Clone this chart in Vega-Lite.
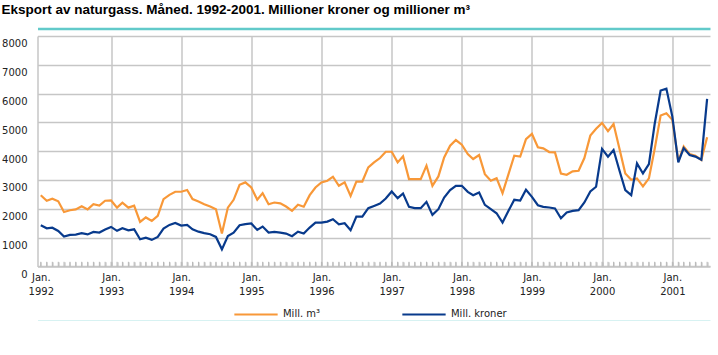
{
"$schema": "https://vega.github.io/schema/vega-lite/v6.json",
"width": 672.5,
"height": 230.4,
"padding": {"left": 1.5, "top": 3, "right": 0, "bottom": 0},
"background": "white",
"title": {"text": "Eksport av naturgass. Måned. 1992-2001. Millioner kroner og millioner m³", "anchor": "start", "frame": "bounds", "font": "Liberation Sans", "fontSize": 13.5, "fontWeight": "bold", "color": "#000000", "offset": 12},
"config": {"view": {"stroke": null},
"axis": {"gridColor": "#c6c6c6", "gridWidth": 1.5, "domainColor": "#c6c6c6", "domainWidth": 1.5, "ticks": false, "tickSize": 0, "labelFont": "DejaVu Sans", "labelFontSize": 10, "labelColor": "#222222", "title": null}},
"data": {"values": [
{"d":"1992-01","s":"Mill. m³","v":2470},{"d":"1992-02","s":"Mill. m³","v":2280},{"d":"1992-03","s":"Mill. m³","v":2350},{"d":"1992-04","s":"Mill. m³","v":2260},{"d":"1992-05","s":"Mill. m³","v":1890},{"d":"1992-06","s":"Mill. m³","v":1950},{"d":"1992-07","s":"Mill. m³","v":1980},{"d":"1992-08","s":"Mill. m³","v":2090},{"d":"1992-09","s":"Mill. m³","v":1980},{"d":"1992-10","s":"Mill. m³","v":2160},{"d":"1992-11","s":"Mill. m³","v":2110},{"d":"1992-12","s":"Mill. m³","v":2280},
{"d":"1993-01","s":"Mill. m³","v":2290},{"d":"1993-02","s":"Mill. m³","v":2040},{"d":"1993-03","s":"Mill. m³","v":2210},{"d":"1993-04","s":"Mill. m³","v":2040},{"d":"1993-05","s":"Mill. m³","v":2110},{"d":"1993-06","s":"Mill. m³","v":1545},{"d":"1993-07","s":"Mill. m³","v":1700},{"d":"1993-08","s":"Mill. m³","v":1580},{"d":"1993-09","s":"Mill. m³","v":1756},{"d":"1993-10","s":"Mill. m³","v":2337},{"d":"1993-11","s":"Mill. m³","v":2484},{"d":"1993-12","s":"Mill. m³","v":2592},
{"d":"1994-01","s":"Mill. m³","v":2592},{"d":"1994-02","s":"Mill. m³","v":2651},{"d":"1994-03","s":"Mill. m³","v":2337},{"d":"1994-04","s":"Mill. m³","v":2253},{"d":"1994-05","s":"Mill. m³","v":2160},{"d":"1994-06","s":"Mill. m³","v":2080},{"d":"1994-07","s":"Mill. m³","v":1987},{"d":"1994-08","s":"Mill. m³","v":1139},{"d":"1994-09","s":"Mill. m³","v":2041},{"d":"1994-10","s":"Mill. m³","v":2312},{"d":"1994-11","s":"Mill. m³","v":2833},{"d":"1994-12","s":"Mill. m³","v":2917},
{"d":"1995-01","s":"Mill. m³","v":2740},{"d":"1995-02","s":"Mill. m³","v":2312},{"d":"1995-03","s":"Mill. m³","v":2543},{"d":"1995-04","s":"Mill. m³","v":2160},{"d":"1995-05","s":"Mill. m³","v":2218},{"d":"1995-06","s":"Mill. m³","v":2189},{"d":"1995-07","s":"Mill. m³","v":2080},{"d":"1995-08","s":"Mill. m³","v":1928},{"d":"1995-09","s":"Mill. m³","v":2140},{"d":"1995-10","s":"Mill. m³","v":2071},{"d":"1995-11","s":"Mill. m³","v":2474},{"d":"1995-12","s":"Mill. m³","v":2740},
{"d":"1996-01","s":"Mill. m³","v":2917},{"d":"1996-02","s":"Mill. m³","v":2976},{"d":"1996-03","s":"Mill. m³","v":3114},{"d":"1996-04","s":"Mill. m³","v":2799},{"d":"1996-05","s":"Mill. m³","v":2917},{"d":"1996-06","s":"Mill. m³","v":2450},{"d":"1996-07","s":"Mill. m³","v":2946},{"d":"1996-08","s":"Mill. m³","v":2946},{"d":"1996-09","s":"Mill. m³","v":3438},{"d":"1996-10","s":"Mill. m³","v":3611},{"d":"1996-11","s":"Mill. m³","v":3763},{"d":"1996-12","s":"Mill. m³","v":3980},
{"d":"1997-01","s":"Mill. m³","v":3980},{"d":"1997-02","s":"Mill. m³","v":3611},{"d":"1997-03","s":"Mill. m³","v":3822},{"d":"1997-04","s":"Mill. m³","v":3030},{"d":"1997-05","s":"Mill. m³","v":3030},{"d":"1997-06","s":"Mill. m³","v":3030},{"d":"1997-07","s":"Mill. m³","v":3498},{"d":"1997-08","s":"Mill. m³","v":2799},{"d":"1997-09","s":"Mill. m³","v":3124},{"d":"1997-10","s":"Mill. m³","v":3783},{"d":"1997-11","s":"Mill. m³","v":4191},{"d":"1997-12","s":"Mill. m³","v":4388},
{"d":"1998-01","s":"Mill. m³","v":4226},{"d":"1998-02","s":"Mill. m³","v":3901},{"d":"1998-03","s":"Mill. m³","v":3729},{"d":"1998-04","s":"Mill. m³","v":3867},{"d":"1998-05","s":"Mill. m³","v":3202},{"d":"1998-06","s":"Mill. m³","v":2976},{"d":"1998-07","s":"Mill. m³","v":3065},{"d":"1998-08","s":"Mill. m³","v":2543},{"d":"1998-09","s":"Mill. m³","v":3202},{"d":"1998-10","s":"Mill. m³","v":3842},{"d":"1998-11","s":"Mill. m³","v":3812},{"d":"1998-12","s":"Mill. m³","v":4422},
{"d":"1999-01","s":"Mill. m³","v":4600},{"d":"1999-02","s":"Mill. m³","v":4137},{"d":"1999-03","s":"Mill. m³","v":4098},{"d":"1999-04","s":"Mill. m³","v":3970},{"d":"1999-05","s":"Mill. m³","v":3960},{"d":"1999-06","s":"Mill. m³","v":3227},{"d":"1999-07","s":"Mill. m³","v":3183},{"d":"1999-08","s":"Mill. m³","v":3301},{"d":"1999-09","s":"Mill. m³","v":3320},{"d":"1999-10","s":"Mill. m³","v":3763},{"d":"1999-11","s":"Mill. m³","v":4541},{"d":"1999-12","s":"Mill. m³","v":4777},
{"d":"2000-01","s":"Mill. m³","v":4983},{"d":"2000-02","s":"Mill. m³","v":4693},{"d":"2000-03","s":"Mill. m³","v":4944},{"d":"2000-04","s":"Mill. m³","v":4078},{"d":"2000-05","s":"Mill. m³","v":3227},{"d":"2000-06","s":"Mill. m³","v":3006},{"d":"2000-07","s":"Mill. m³","v":3055},{"d":"2000-08","s":"Mill. m³","v":2779},{"d":"2000-09","s":"Mill. m³","v":3055},{"d":"2000-10","s":"Mill. m³","v":4078},{"d":"2000-11","s":"Mill. m³","v":5239},{"d":"2000-12","s":"Mill. m³","v":5318},
{"d":"2001-01","s":"Mill. m³","v":5087},{"d":"2001-02","s":"Mill. m³","v":3645},{"d":"2001-03","s":"Mill. m³","v":4167},{"d":"2001-04","s":"Mill. m³","v":3901},{"d":"2001-05","s":"Mill. m³","v":3842},{"d":"2001-06","s":"Mill. m³","v":3694},{"d":"2001-07","s":"Mill. m³","v":4482},
{"d":"1992-01","s":"Mill. kroner","v":1428},{"d":"1992-02","s":"Mill. kroner","v":1323},{"d":"1992-03","s":"Mill. kroner","v":1343},{"d":"1992-04","s":"Mill. kroner","v":1232},{"d":"1992-05","s":"Mill. kroner","v":1035},{"d":"1992-06","s":"Mill. kroner","v":1092},{"d":"1992-07","s":"Mill. kroner","v":1106},{"d":"1992-08","s":"Mill. kroner","v":1151},{"d":"1992-09","s":"Mill. kroner","v":1111},{"d":"1992-10","s":"Mill. kroner","v":1195},{"d":"1992-11","s":"Mill. kroner","v":1175},{"d":"1992-12","s":"Mill. kroner","v":1279},
{"d":"1993-01","s":"Mill. kroner","v":1372},{"d":"1993-02","s":"Mill. kroner","v":1234},{"d":"1993-03","s":"Mill. kroner","v":1323},{"d":"1993-04","s":"Mill. kroner","v":1254},{"d":"1993-05","s":"Mill. kroner","v":1288},{"d":"1993-06","s":"Mill. kroner","v":941},{"d":"1993-07","s":"Mill. kroner","v":998},{"d":"1993-08","s":"Mill. kroner","v":920},{"d":"1993-09","s":"Mill. kroner","v":1023},{"d":"1993-10","s":"Mill. kroner","v":1313},{"d":"1993-11","s":"Mill. kroner","v":1441},{"d":"1993-12","s":"Mill. kroner","v":1510},
{"d":"1994-01","s":"Mill. kroner","v":1416},{"d":"1994-02","s":"Mill. kroner","v":1441},{"d":"1994-03","s":"Mill. kroner","v":1288},{"d":"1994-04","s":"Mill. kroner","v":1205},{"d":"1994-05","s":"Mill. kroner","v":1156},{"d":"1994-06","s":"Mill. kroner","v":1116},{"d":"1994-07","s":"Mill. kroner","v":1023},{"d":"1994-08","s":"Mill. kroner","v":592},{"d":"1994-09","s":"Mill. kroner","v":1057},{"d":"1994-10","s":"Mill. kroner","v":1173},{"d":"1994-11","s":"Mill. kroner","v":1429},{"d":"1994-12","s":"Mill. kroner","v":1466},
{"d":"1995-01","s":"Mill. kroner","v":1490},{"d":"1995-02","s":"Mill. kroner","v":1267},{"d":"1995-03","s":"Mill. kroner","v":1382},{"d":"1995-04","s":"Mill. kroner","v":1173},{"d":"1995-05","s":"Mill. kroner","v":1195},{"d":"1995-06","s":"Mill. kroner","v":1173},{"d":"1995-07","s":"Mill. kroner","v":1139},{"d":"1995-08","s":"Mill. kroner","v":1047},{"d":"1995-09","s":"Mill. kroner","v":1205},{"d":"1995-10","s":"Mill. kroner","v":1139},{"d":"1995-11","s":"Mill. kroner","v":1348},{"d":"1995-12","s":"Mill. kroner","v":1522},
{"d":"1996-01","s":"Mill. kroner","v":1522},{"d":"1996-02","s":"Mill. kroner","v":1556},{"d":"1996-03","s":"Mill. kroner","v":1638},{"d":"1996-04","s":"Mill. kroner","v":1464},{"d":"1996-05","s":"Mill. kroner","v":1500},{"d":"1996-06","s":"Mill. kroner","v":1254},{"d":"1996-07","s":"Mill. kroner","v":1731},{"d":"1996-08","s":"Mill. kroner","v":1731},{"d":"1996-09","s":"Mill. kroner","v":2022},{"d":"1996-10","s":"Mill. kroner","v":2100},{"d":"1996-11","s":"Mill. kroner","v":2184},{"d":"1996-12","s":"Mill. kroner","v":2356},
{"d":"1997-01","s":"Mill. kroner","v":2602},{"d":"1997-02","s":"Mill. kroner","v":2369},{"d":"1997-03","s":"Mill. kroner","v":2533},{"d":"1997-04","s":"Mill. kroner","v":2068},{"d":"1997-05","s":"Mill. kroner","v":2022},{"d":"1997-06","s":"Mill. kroner","v":2022},{"d":"1997-07","s":"Mill. kroner","v":2241},{"d":"1997-08","s":"Mill. kroner","v":1788},{"d":"1997-09","s":"Mill. kroner","v":1987},{"d":"1997-10","s":"Mill. kroner","v":2393},{"d":"1997-11","s":"Mill. kroner","v":2648},{"d":"1997-12","s":"Mill. kroner","v":2799},
{"d":"1998-01","s":"Mill. kroner","v":2799},{"d":"1998-02","s":"Mill. kroner","v":2589},{"d":"1998-03","s":"Mill. kroner","v":2474},{"d":"1998-04","s":"Mill. kroner","v":2568},{"d":"1998-05","s":"Mill. kroner","v":2137},{"d":"1998-06","s":"Mill. kroner","v":1987},{"d":"1998-07","s":"Mill. kroner","v":1846},{"d":"1998-08","s":"Mill. kroner","v":1522},{"d":"1998-09","s":"Mill. kroner","v":1928},{"d":"1998-10","s":"Mill. kroner","v":2312},{"d":"1998-11","s":"Mill. kroner","v":2287},{"d":"1998-12","s":"Mill. kroner","v":2659},
{"d":"1999-01","s":"Mill. kroner","v":2415},{"d":"1999-02","s":"Mill. kroner","v":2125},{"d":"1999-03","s":"Mill. kroner","v":2068},{"d":"1999-04","s":"Mill. kroner","v":2044},{"d":"1999-05","s":"Mill. kroner","v":2010},{"d":"1999-06","s":"Mill. kroner","v":1672},{"d":"1999-07","s":"Mill. kroner","v":1870},{"d":"1999-08","s":"Mill. kroner","v":1928},{"d":"1999-09","s":"Mill. kroner","v":1953},{"d":"1999-10","s":"Mill. kroner","v":2218},{"d":"1999-11","s":"Mill. kroner","v":2602},{"d":"1999-12","s":"Mill. kroner","v":2765},
{"d":"2000-01","s":"Mill. kroner","v":4078},{"d":"2000-02","s":"Mill. kroner","v":3807},{"d":"2000-03","s":"Mill. kroner","v":4041},{"d":"2000-04","s":"Mill. kroner","v":3321},{"d":"2000-05","s":"Mill. kroner","v":2648},{"d":"2000-06","s":"Mill. kroner","v":2474},{"d":"2000-07","s":"Mill. kroner","v":3576},{"d":"2000-08","s":"Mill. kroner","v":3227},{"d":"2000-09","s":"Mill. kroner","v":3554},{"d":"2000-10","s":"Mill. kroner","v":4944},{"d":"2000-11","s":"Mill. kroner","v":6105},{"d":"2000-12","s":"Mill. kroner","v":6174},
{"d":"2001-01","s":"Mill. kroner","v":5200},{"d":"2001-02","s":"Mill. kroner","v":3611},{"d":"2001-03","s":"Mill. kroner","v":4108},{"d":"2001-04","s":"Mill. kroner","v":3867},{"d":"2001-05","s":"Mill. kroner","v":3812},{"d":"2001-06","s":"Mill. kroner","v":3704},{"d":"2001-07","s":"Mill. kroner","v":5820}
]},
"layer": [
{
"transform": [{"filter": {"field": "s", "equal": "Mill. kroner"}}],
"mark": {"type": "rule", "color": "#b8b8b8", "strokeWidth": 1},
"encoding": {
"x": {"field": "d", "type": "temporal",
"scale": {"domain": [{"year": 1991, "month": 12, "date": 15}, {"year": 2001, "month": 7, "date": 16}]},
"axis": {"orient": "top", "offset": 7.5, "labels": false, "grid": false, "domainColor": "#62caca", "domainWidth": 2.5}},
"y": {"datum": 0, "type": "quantitative", "scale": {"domain": [0, 8000]}, "axis": null},
"y2": {"datum": 160}
}
},
{
"transform": [{"filter": {"field": "s", "equal": "Mill. m³"}}],
"mark": {"type": "line", "strokeWidth": 2.2},
"encoding": {
"x": {"field": "d", "type": "temporal",
"axis": {"orient": "bottom",
"tickCount": {"interval": "month", "step": 1},
"ticks": true, "tickSize": -4.6, "tickColor": "#b8b8b8", "tickWidth": 1,
"labelExpr": "month(datum.value) == 0 ? ['Jan.', timeFormat(datum.value, '%Y')] : ''",
"labelFlush": false, "labelOverlap": false,
"grid": true,
"gridOpacity": {"condition": {"test": "month(datum.value) == 0 && year(datum.value) > 1992", "value": 1}, "value": 0},
"labelPadding": 10.6, "labelLineHeight": 14.3}},
"y": {"field": "v", "type": "quantitative",
"axis": {"values": [0,1000,2000,3000,4000,5000,6000,7000,8000], "format": "d",
"grid": true, "labelPadding": 10.5, "labelBaseline": "top", "labelOffset": 3}},
"color": {"field": "s", "type": "nominal",
"scale": {"domain": ["Mill. m³", "Mill. kroner"], "range": ["#f89838", "#083a8c"]},
"legend": {"orient": "none", "legendX": 195.5, "legendY": 255.5, "direction": "horizontal", "title": null,
"symbolType": "stroke", "symbolSize": 1875, "symbolStrokeWidth": 2.2,
"labelFont": "DejaVu Sans", "labelFontSize": 10, "labelColor": "#222222",
"labelOffset": 4, "columnPadding": 76, "padding": 0}}
}
},
{
"transform": [{"filter": {"field": "s", "equal": "Mill. kroner"}}],
"mark": {"type": "line", "strokeWidth": 2.2},
"encoding": {
"x": {"field": "d", "type": "temporal",
"axis": {"orient": "bottom", "offset": 55, "labels": false, "grid": false, "domainColor": "#62caca", "domainWidth": 2.5}},
"y": {"field": "v", "type": "quantitative", "axis": null},
"color": {"field": "s", "type": "nominal",
"scale": {"domain": ["Mill. m³", "Mill. kroner"], "range": ["#f89838", "#083a8c"]},
"legend": {"orient": "none", "legendX": 195.5, "legendY": 255.5, "direction": "horizontal", "title": null,
"symbolType": "stroke", "symbolSize": 1875, "symbolStrokeWidth": 2.2,
"labelFont": "DejaVu Sans", "labelFontSize": 10, "labelColor": "#222222",
"labelOffset": 4, "columnPadding": 76, "padding": 0}}
}
}
],
"resolve": {"axis": {"x": "independent", "y": "independent"}}
}
